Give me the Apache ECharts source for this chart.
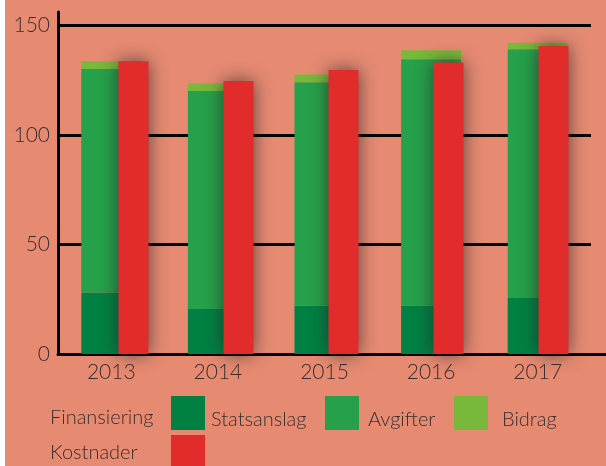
<!DOCTYPE html>
<html>
<head>
<meta charset="utf-8">
<script src="https://cdn.jsdelivr.net/npm/echarts@6/dist/echarts.min.js"></script>
<style>
  html, body { margin: 0; padding: 0; background: #fff; }
  #chart { position: absolute; left: 5px; top: 0; width: 601px; height: 466px; }
</style>
</head>
<body>
<div id="chart"></div>
<script>
const years = ['2013', '2014', '2015', '2016', '2017']
const statsanslag = [28, 20.5, 22, 22, 25.5]
const avgifter = [102, 99.5, 102, 112.5, 113.5]
const bidrag = [3.5, 3.5, 3.5, 4, 3]
const kostnader = [133.5, 124.5, 129.5, 133, 140.5]
const yTicks = [0, 50, 100, 150]

const TEXT = '#3a2e2c'
const FONT = 'Lato'

const lineStyle = { color: '#000', width: 3 }

const greenBar = (name, data, color) => ({
  name,
  type: 'bar',
  stack: 'fin',
  data,
  barWidth: 60,
  xAxisIndex: 0,
  yAxisIndex: 0,
  itemStyle: { color },
})

// one legend per item so each swatch sits where the original put it;
// rich padding pushes the label a little below the swatch centre
const legendItem = (name, left, gap) => ({
  orient: 'horizontal',
  padding: 0,
  left,
  top: 396,
  itemWidth: 34,
  itemHeight: 34,
  icon: 'rect',
  selectedMode: false,
  data: [name],
  formatter: (n) => `{t|${n}}`,
  textStyle: {
    rich: {
      t: { color: TEXT, fontFamily: FONT, fontSize: 20, fontWeight: 300, padding: [14, 0, 0, gap] },
    },
  },
})

const chart = echarts.init(document.getElementById('chart'))
chart.setOption({
  backgroundColor: '#E68A72',
  animation: false,
  textStyle: { fontFamily: FONT },
  grid: [
    { left: 53, width: 533, top: 12, bottom: 112 },
    { left: 76, width: 529, top: 12, bottom: 112 },
  ],
  xAxis: [
    {
      type: 'category',
      gridIndex: 0,
      data: years,
      axisLine: { lineStyle },
      axisTick: { show: false },
      axisLabel: { color: TEXT, fontSize: 21, fontWeight: 300, margin: 8 },
    },
    {
      type: 'category',
      gridIndex: 1,
      data: years,
      axisLine: { lineStyle },
      axisTick: { show: false },
      axisLabel: { show: false },
    },
  ],
  yAxis: [
    {
      type: 'value',
      gridIndex: 0,
      min: 0,
      max: 156,
      interval: 50,
      axisLine: { show: true, lineStyle },
      axisTick: { show: false },
      axisLabel: {
        color: TEXT,
        fontSize: 21,
        fontWeight: 300,
        margin: 8,
        formatter: (v) => (yTicks.includes(v) ? String(v) : ''),
      },
      splitLine: { lineStyle, showMaxLine: false },
    },
    {
      type: 'value',
      gridIndex: 1,
      min: 0,
      max: 156,
      show: false,
      splitLine: { show: false },
    },
  ],
  legend: [
    legendItem('Statsanslag', 166, 1),
    legendItem('Avgifter', 320, 4),
    legendItem('Bidrag', 449, 9),
    {
      padding: 0,
      left: 166,
      top: 435,
      itemWidth: 34,
      itemHeight: 34,
      icon: 'rect',
      selectedMode: false,
      data: ['Kostnader'],
      formatter: () => '',
    },
  ],
  graphic: [
    { type: 'text', x: 45, y: 418, style: { text: 'Finansiering', fill: TEXT, font: '300 20px Lato', verticalAlign: 'middle' } },
    { type: 'text', x: 45, y: 453, style: { text: 'Kostnader', fill: TEXT, font: '300 20px Lato', verticalAlign: 'middle' } },
  ],
  series: [
    greenBar('Statsanslag', statsanslag, '#008043'),
    greenBar('Avgifter', avgifter, '#26A04A'),
    greenBar('Bidrag', bidrag, '#78B83A'),
    {
      name: 'Kostnader',
      type: 'bar',
      data: kostnader,
      barWidth: 30,
      xAxisIndex: 1,
      yAxisIndex: 1,
      itemStyle: {
        color: '#E22B2B',
        shadowBlur: 18,
        shadowColor: 'rgba(40, 40, 40, 0.75)',
      },
    },
  ],
})
</script>
</body>
</html>
